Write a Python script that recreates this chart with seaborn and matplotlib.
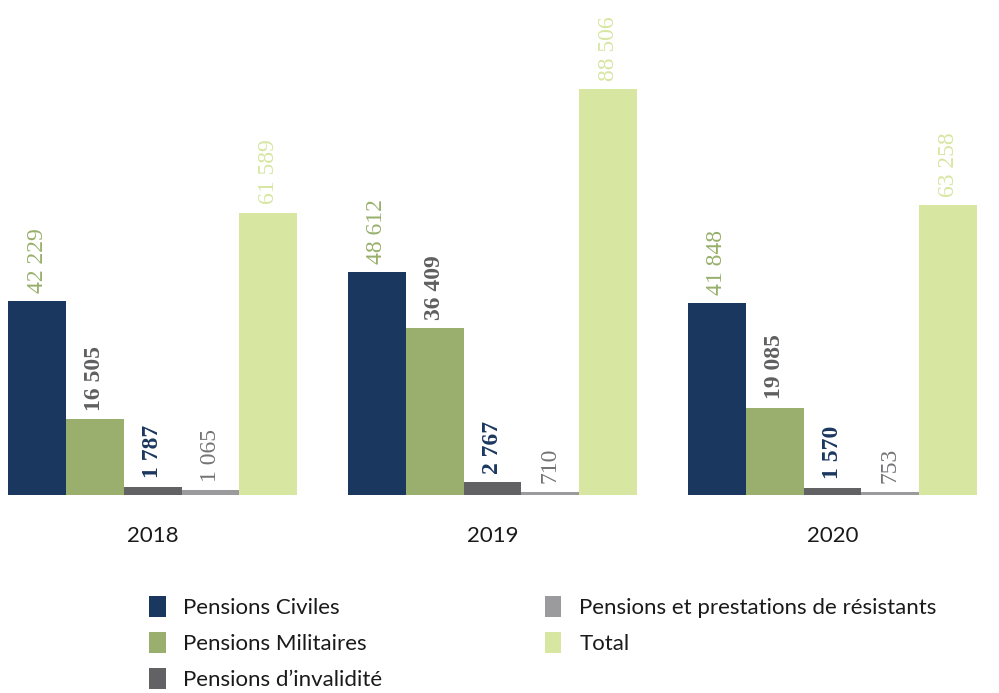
import pandas as pd
import matplotlib
matplotlib.use("Agg")
import matplotlib.pyplot as plt
import seaborn as sns
from matplotlib.patches import Patch

# Données (milliers)
annees = ["2018", "2019", "2020"]
series = [
    "Pensions Civiles",
    "Pensions Militaires",
    "Pensions d\u2019invalidité",
    "Pensions et prestations de résistants",
    "Total",
]
civiles = [42229, 48612, 41848]
militaires = [16505, 36409, 19085]
invalidite = [1787, 2767, 1570]
resistants = [1065, 710, 753]
total = [61589, 88506, 63258]

couleurs = ["#1a375f", "#9aae6e", "#626264", "#9b9b9e", "#d7e6a1"]
couleurs_labels = ["#97b06b", "#5f5f61", "#1a375f", "#737376", "#d7e6a1"]
gras = ["normal", "bold", "bold", "normal", "normal"]

valeurs = [civiles, militaires, invalidite, resistants, total]
lignes = []
for nom, vals in zip(series, valeurs):
    for annee, v in zip(annees, vals):
        lignes.append({"annee": annee, "serie": nom, "valeur": v})
df = pd.DataFrame(lignes)

sns.set_style("white")
plt.rcParams["font.family"] = ["Lato", "DejaVu Sans"]

fig = plt.figure(figsize=(9.99, 6.93), dpi=100)
ax = fig.add_axes([0, (693 - 495) / 693, 1, 495 / 693])

sns.barplot(data=df, x="annee", y="valeur", hue="serie", hue_order=series,
            palette=couleurs, saturation=1, width=0.85, gap=0, linewidth=0,
            errorbar=None, legend=False, ax=ax)

for cont, col, w in zip(ax.containers, couleurs_labels, gras):
    labels = [f"{int(b.get_height()):,}".replace(",", " ") for b in cont]
    ax.bar_label(cont, labels=labels, rotation=90, padding=6, color=col,
                 fontsize=17, fontweight=w, family="Liberation Serif")

ax.set_xlim(-0.449, 2.49)
ax.set_ylim(0, 108000)
ax.set_xlabel("")
ax.set_ylabel("")
ax.set_yticks([])
ax.tick_params(axis="x", length=0, pad=22, labelsize=16, labelcolor="#1a1a1a")
sns.despine(ax=ax, left=True, bottom=True)

handles = [Patch(facecolor=c, edgecolor="none") for c in couleurs]
fig.legend(handles, series, loc="upper left", bbox_to_anchor=(149 / 999, 1 - 596 / 693),
           ncol=2, frameon=False, fontsize=16, handlelength=0.75, handleheight=1.1,
           handletextpad=0.8, labelspacing=0.62, columnspacing=7.3,
           borderpad=0, borderaxespad=0, labelcolor="#1a1a1a")

fig.savefig("out.png", dpi=100)
